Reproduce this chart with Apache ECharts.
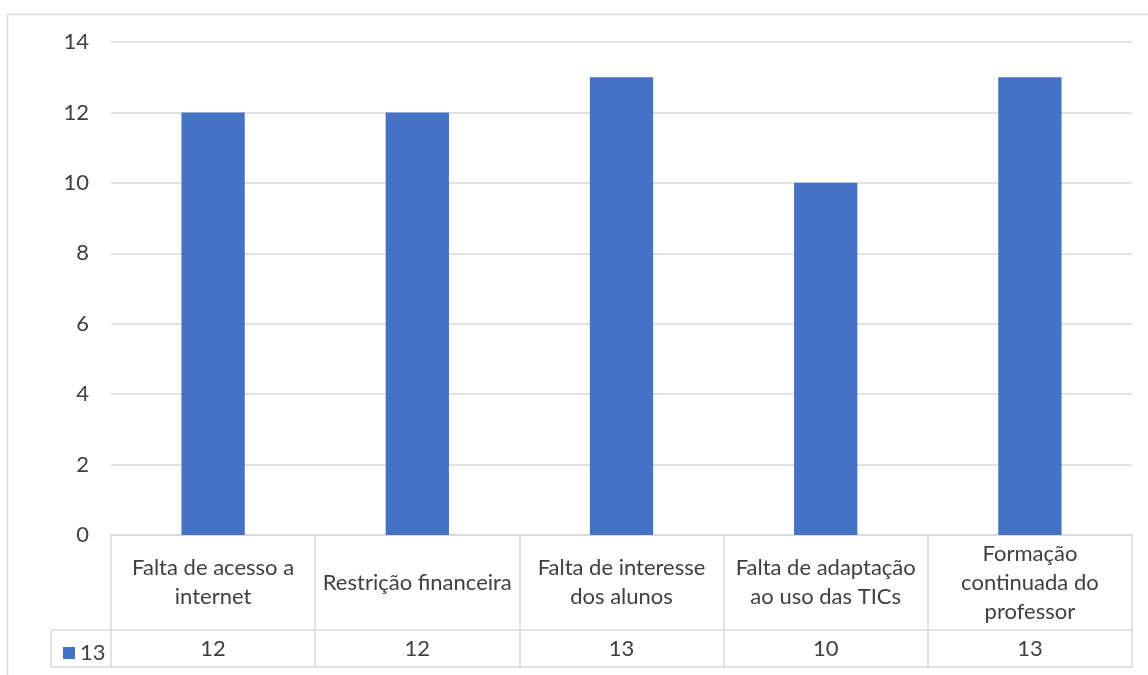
<!DOCTYPE html>
<html>
<head>
<meta charset="utf-8">
<script src="https://cdn.jsdelivr.net/npm/echarts@6/dist/echarts.min.js"></script>
<style>
  html, body { margin: 0; padding: 0; background: #fff; }
  #chart { width: 1148px; height: 675px; }
</style>
</head>
<body>
<div id="chart"></div>
<script>
// data
const seriesName = '13';
const categories = [
  'Falta de acesso a internet',
  'Restrição financeira',
  'Falta de interesse dos alunos',
  'Falta de adaptação ao uso das TICs',
  'Formação continuada do professor'
];
const values = [12, 12, 13, 10, 13];
const yTicks = [0, 2, 4, 6, 8, 10, 12, 14];

const font = 'Lato, "Open Sans", sans-serif';
const fs = 22;
const txt = '#404040';
const line = '#d9d9d9';

// table geometry
const gLeft = 111, gRight = 16, gTop = 42, gBottom = 140;
const headH = 95, rowH = 37, legendX = 51;
const W = 1148, H = 675;
const axisY = H - gBottom;

// word wrap by measured width, like the table cells in the original
const measure = document.createElement('canvas').getContext('2d');
measure.font = fs + 'px ' + font;
function wrap(text, maxW) {
  const words = text.split(' ');
  const lines = [];
  let cur = '';
  words.forEach(w => {
    const test = cur ? cur + ' ' + w : w;
    if (cur && measure.measureText(test).width > maxW) {
      lines.push(cur);
      cur = w;
    } else {
      cur = test;
    }
  });
  if (cur) lines.push(cur);
  return lines.join('\n');
}

const chart = echarts.init(document.getElementById('chart'));

const option = {
  animation: false,
  backgroundColor: '#fff',
  grid: { left: gLeft, right: gRight, top: gTop, bottom: gBottom },
  legend: {
    data: [seriesName],
    left: 58, top: axisY + headH + 7,
    icon: 'rect', itemWidth: 12, itemHeight: 12, itemGap: 5,
    textStyle: { fontFamily: font, fontSize: fs, color: txt }
  },
  xAxis: [
    {
      type: 'category',
      data: categories,
      axisLine: { show: true, lineStyle: { color: line, width: 1.5 } },
      axisTick: { show: true, length: headH, lineStyle: { color: line, width: 1.5 } },
      axisLabel: {
        interval: 0, margin: headH / 2, verticalAlign: 'middle', lineHeight: 29,
        fontFamily: font, fontSize: fs, color: txt,
        formatter: v => wrap(v, 200)
      }
    },
    {
      type: 'category',
      position: 'bottom',
      offset: headH,
      data: categories,
      axisLine: { show: true, lineStyle: { color: line, width: 1.5 } },
      axisTick: { show: true, length: rowH, lineStyle: { color: line, width: 1.5 } },
      axisLabel: {
        interval: 0, margin: rowH / 2, verticalAlign: 'middle',
        fontFamily: font, fontSize: fs, color: txt,
        formatter: (v, i) => String(values[i])
      }
    }
  ],
  yAxis: {
    type: 'value',
    min: yTicks[0], max: yTicks[yTicks.length - 1], interval: 2,
    axisLine: { show: false },
    axisTick: { show: false },
    axisLabel: { margin: 22, fontFamily: font, fontSize: fs, color: txt },
    splitLine: { lineStyle: { color: line, width: 1.5 } }
  },
  series: [{
    name: seriesName,
    type: 'bar',
    data: values,
    barWidth: '31%',
    itemStyle: { color: '#4472c4' }
  }],
  graphic: [
    // outer chart border
    { type: 'rect', shape: { x: 7.5, y: 14.5, width: W + 20, height: H + 20 },
      style: { fill: null, stroke: line, lineWidth: 1.5 }, silent: true },
    // legend cell and bottom line of table
    { type: 'line', shape: { x1: legendX, y1: axisY + headH, x2: gLeft, y2: axisY + headH },
      style: { stroke: line, lineWidth: 1.5 } },
    { type: 'line', shape: { x1: legendX, y1: axisY + headH + rowH, x2: W - gRight, y2: axisY + headH + rowH },
      style: { stroke: line, lineWidth: 1.5 } },
    { type: 'line', shape: { x1: legendX, y1: axisY + headH, x2: legendX, y2: axisY + headH + rowH },
      style: { stroke: line, lineWidth: 1.5 } }
  ]
};

chart.setOption(option);
</script>
</body>
</html>
